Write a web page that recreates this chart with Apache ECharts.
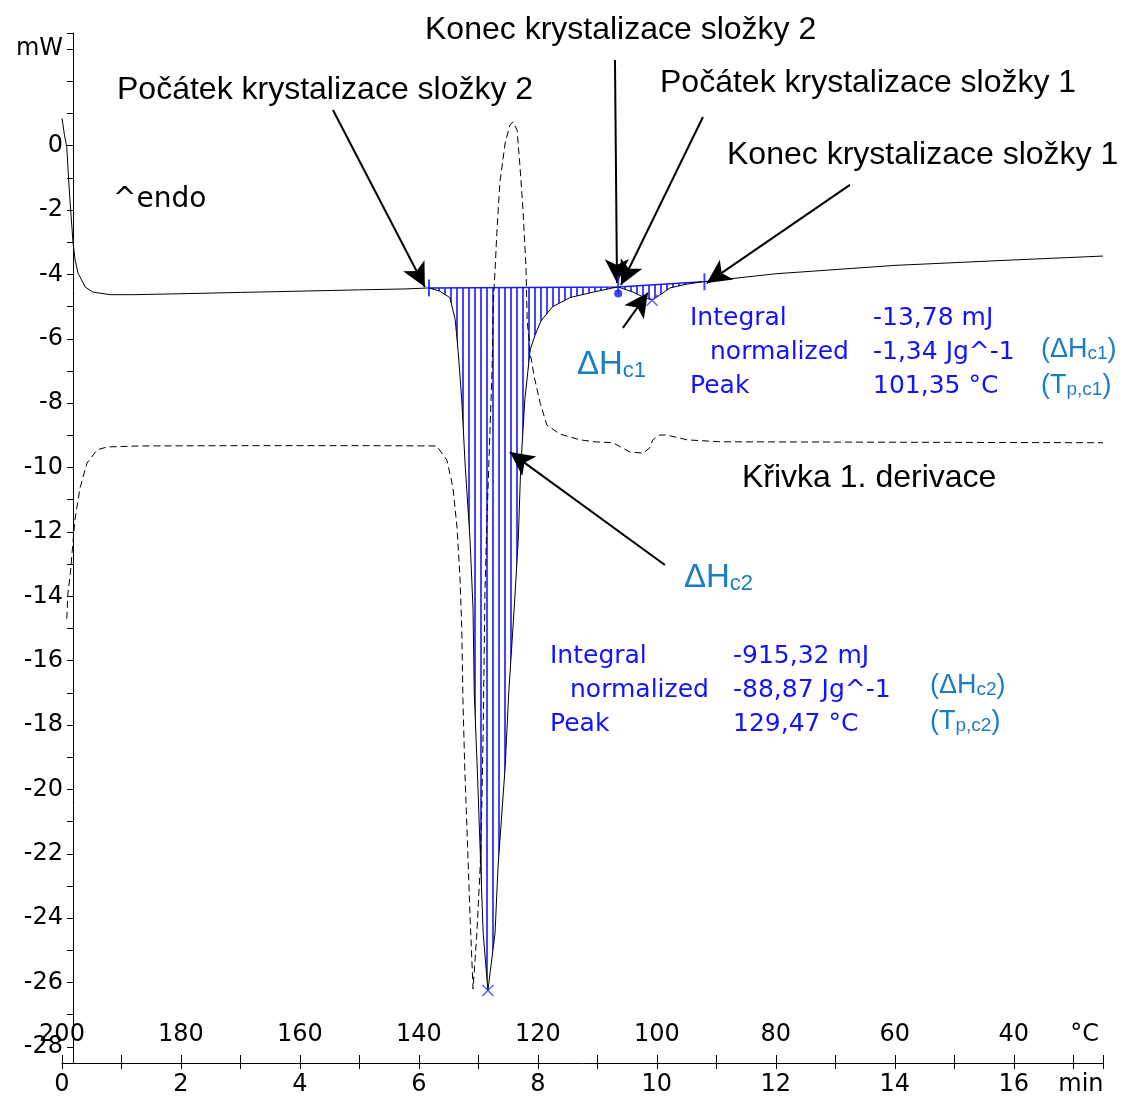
<!DOCTYPE html>
<html>
<head>
<meta charset="utf-8">
<script src="https://cdn.jsdelivr.net/npm/echarts@6.0.0/dist/echarts.min.js"></script>
<style>
html, body { margin: 0; padding: 0; background: #fff; }
#chart { width: 1124px; height: 1104px; }
</style>
</head>
<body>
<div id="chart"></div>
<script>
// DSC krivka: cas (min) a tepelny tok (mW)
var dscTime = [0.00, 0.04, 0.08, 0.13, 0.185, 0.22, 0.27, 0.39, 0.52, 0.81, 1.2, 2, 3, 4, 5, 5.8, 6.17,
  6.35, 6.52, 6.61, 6.66, 6.72, 6.78, 6.86, 6.91, 6.93, 6.98, 7.04, 7.08, 7.16,
  7.28, 7.33, 7.45, 7.51, 7.60, 7.67, 7.71, 7.78, 7.87, 7.95, 8.05, 8.25, 8.54, 8.93, 9.26, 9.35,
  9.6, 9.77, 9.92, 10.05, 10.22, 10.51, 10.77, 12, 14, 16, 17.5];
var dscFlow = [0.85, 0.35, -0.05, -1.6, -3.0, -3.55, -3.96, -4.39, -4.55, -4.63, -4.63, -4.6, -4.56, -4.52, -4.48, -4.45, -4.42,
  -4.52, -4.72, -5.4, -6.4, -7.9, -10.0, -12.25, -14.4, -17.0, -19.3, -22.4, -24.46, -26.25,
  -24.46, -22.4, -19.3, -17.0, -14.43, -12.25, -10.07, -7.9, -6.35, -5.9, -5.45, -5.0, -4.72, -4.55, -4.42, -4.39,
  -4.55, -4.7, -4.8, -4.64, -4.42, -4.3, -4.23, -3.98, -3.72, -3.55, -3.43];

// krivka 1. derivace (v meritku osy mW)
var derTime = [0.08, 0.10, 0.14, 0.185, 0.22, 0.3, 0.42, 0.59, 0.76, 1.3, 3, 5, 6.3,
  6.47, 6.57, 6.64, 6.69, 6.72, 6.74, 6.77, 6.81, 6.86, 6.91,
  6.97, 7.03, 7.06, 7.08, 7.11, 7.14, 7.17, 7.23, 7.25, 7.28, 7.31, 7.36, 7.45, 7.53, 7.58, 7.65,
  7.70, 7.75, 7.80, 7.82, 7.87, 7.95, 8.04, 8.15, 8.37, 8.71, 8.96, 9.26, 9.55, 9.77, 9.88, 9.93,
  10.05, 10.17, 10.51, 11.06, 17.5];
var derVal = [-14.7, -13.9, -13.3, -12.3, -11.6, -10.66, -9.86, -9.45, -9.36, -9.33, -9.32, -9.32, -9.33,
  -9.77, -10.6, -11.85, -13.4, -14.95, -17.2, -19.3, -21.35, -23.96, -26.2,
  -24.6, -22.4, -20.3, -18.2, -13.9, -11.85, -10.2, -6.97, -4.9, -3.86, -2.72, -1.16, 0.08, 0.64, 0.74, 0.49,
  -0.66, -2.0, -3.77, -5.42, -6.44, -7.28, -8.0, -8.68, -8.96, -9.14, -9.2, -9.23, -9.52, -9.55, -9.39, -9.14,
  -8.99, -8.99, -9.14, -9.2, -9.23];

// popisky teplotni osy (kazde 2 min)
var tempLabels = ['200', '180', '160', '140', '120', '100', '80', '60', '40'];

// meze integrace a zakladni linie
var peak2Limits = [6.17, 9.35];
var peak2Base = [-4.42, -4.39];
var peak1Limits = [9.35, 10.77];
var peak1Base = [-4.39, -4.23];
var peakMarks = [[7.16, -26.25], [9.92, -4.8]];

// sipky [od, do]
var arrows = [
  [[4.555, 1.11], [6.10, -4.39]],
  [[9.296, 2.66], [9.33, -4.27]],
  [[10.775, 0.89], [9.397, -4.33]],
  [[13.246, -1.22], [10.84, -4.27]],
  [[9.43, -5.66], [9.85, -4.57]],
  [[10.136, -13.03], [7.53, -9.52]]
];

var pc = document.createElement('canvas');
pc.width = 6; pc.height = 4;
var pctx = pc.getContext('2d');
pctx.fillStyle = '#4646ff';
pctx.fillRect(0, 0, 2, 4);
var hatch = { image: pc, repeat: 'repeat' };

function zip(a, b) {
  return a.map(function (v, i) { return [v, b[i]]; });
}

function hatchSeries(lim, base) {
  return {
    type: 'custom',
    silent: true,
    data: [[lim[0], base[0]]],
    renderItem: function (params, api) {
      var pts = [api.coord([lim[0], base[0]])];
      for (var i = 0; i < dscTime.length; i++) {
        if (dscTime[i] >= lim[0] && dscTime[i] <= lim[1]) {
          pts.push(api.coord([dscTime[i], dscFlow[i]]));
        }
      }
      pts.push(api.coord([lim[1], base[1]]));
      return { type: 'polygon', shape: { points: pts }, style: { fill: hatch, stroke: null } };
    },
    z: 1
  };
}

var blackFont = 'Liberation Sans';
var tahoma = 'DejaVu Sans';
var steel = '#1a7cc4';
var blue = '#1212ff';

function txt(x, y, s, size, color, family) {
  return {
    type: 'text', x: x, y: y,
    style: { text: s, fontSize: size, fontFamily: family, fill: color, verticalAlign: 'middle', align: 'left' }
  };
}

function richTxt(x, y, s, size, subSize) {
  return {
    type: 'text', x: x, y: y,
    style: {
      text: s, verticalAlign: 'middle', align: 'left',
      rich: {
        a: { fontSize: size, fontFamily: blackFont, fill: steel, verticalAlign: 'bottom', lineHeight: size },
        b: { fontSize: subSize, fontFamily: blackFont, fill: steel, verticalAlign: 'bottom', lineHeight: subSize }
      }
    }
  };
}

var chart = echarts.init(document.getElementById('chart'));

var option = {
  animation: false,
  backgroundColor: '#fff',
  grid: { left: 62, right: 21, top: 33, bottom: 41, containLabel: false, outerBoundsMode: 'none' },
  xAxis: [{
    type: 'value', position: 'bottom', min: 0, max: 17.5, interval: 1,
    axisLine: { onZero: false, lineStyle: { color: '#000', width: 1 } },
    axisTick: { show: true, inside: false, length: 6, lineStyle: { color: '#000' } },
    splitLine: { show: false },
    axisLabel: {
      color: '#000', fontSize: 24, fontFamily: tahoma, margin: 10,
      formatter: function (v) {
        if (v === 17) return '  min';
        if (v % 2 === 0) return String(v);
        return '';
      }
    }
  }, {
    type: 'value', position: 'bottom', min: 0, max: 17.5, interval: 1,
    axisLine: { show: false, onZero: false },
    axisTick: { show: true, inside: true, length: 8, lineStyle: { color: '#000' } },
    splitLine: { show: false },
    axisLabel: {
      inside: true, color: '#000', fontSize: 24, fontFamily: tahoma, margin: 16,
      formatter: function (v) {
        if (v === 17) return '   °C';
        if (v % 2 === 0 && v / 2 < tempLabels.length) return tempLabels[v / 2];
        return '';
      }
    }
  }],
  yAxis: {
    type: 'value', min: -28.5, max: 3.5, splitNumber: 32, minInterval: 1, maxInterval: 1,
    offset: -11,
    axisLine: { show: true, onZero: false, lineStyle: { color: '#000', width: 1 } },
    axisTick: { show: true, length: 6, lineStyle: { color: '#000' } },
    splitLine: { show: false },
    axisLabel: {
      color: '#000', fontSize: 24, fontFamily: tahoma, margin: 10,
      formatter: function (v) {
        if (v === 3) return 'mW';
        if (v <= 0 && Math.abs(v % 2) === 0 && Math.round(v) === v) return String(v);
        return '';
      }
    }
  },
  series: [
    hatchSeries(peak2Limits, peak2Base),
    hatchSeries(peak1Limits, peak1Base),
    {
      type: 'line', name: 'baseline',
      data: [[peak2Limits[0], peak2Base[0]], [peak2Limits[1], peak2Base[1]], [peak1Limits[1], peak1Base[1]]],
      symbol: 'none', silent: true,
      lineStyle: { color: '#1a1aff', width: 1.5 }, z: 3
    },
    {
      type: 'line', name: 'derivace',
      data: zip(derTime, derVal),
      symbol: 'none', silent: true,
      lineStyle: { color: '#000', width: 1, type: [7, 4] }, z: 4
    },
    {
      type: 'line', name: 'DSC',
      data: zip(dscTime, dscFlow),
      symbol: 'none', silent: true,
      lineStyle: { color: '#000', width: 1 }, z: 5,
      markLine: {
        silent: true, animation: false,
        symbol: ['none', 'arrow'], symbolSize: 22,
        label: { show: false },
        lineStyle: { color: '#000', width: 2, type: 'solid' },
        emphasis: { disabled: true },
        data: arrows.map(function (a) {
          return [
            { coord: a[0], symbol: 'none' },
            { coord: a[1], symbol: 'arrow', symbolSize: [18, 24] }
          ];
        })
      }
    },
    {
      type: 'scatter', name: 'peaks', silent: true,
      data: peakMarks,
      symbol: 'path://M0,0L10,10M10,0L0,10', symbolSize: 11,
      itemStyle: { color: 'none', borderColor: '#3a3aff', borderWidth: 1.5 }, z: 6
    },
    {
      type: 'scatter', name: 'meze', silent: true,
      data: [[peak2Limits[0], peak2Base[0]], [peak2Limits[1], peak2Base[1] + 0.1], [peak1Limits[1] + 0.03, peak1Base[1]]],
      symbol: 'rect', symbolSize: [2, 17],
      itemStyle: { color: '#1010ff' }, z: 6
    },
    {
      type: 'scatter', name: 'dot', silent: true,
      data: [[peak2Limits[1], peak2Base[1] - 0.2]],
      symbol: 'circle', symbolSize: 8,
      itemStyle: { color: '#1010ff' }, z: 6
    }
  ],
  graphic: [
    txt(425, 30, 'Konec krystalizace složky 2', 32, '#000', blackFont),
    txt(117, 90, 'Počátek krystalizace složky 2', 32, '#000', blackFont),
    txt(660, 83, 'Počátek krystalizace složky 1', 32, '#000', blackFont),
    txt(727, 155, 'Konec krystalizace složky 1', 32, '#000', blackFont),
    txt(742, 478, 'Křivka 1. derivace', 32, '#000', blackFont),
    txt(113, 200, '^endo', 28, '#000', tahoma),
    richTxt(577, 365, '{a|ΔH}{b|c1}', 33, 22),
    richTxt(684, 578, '{a|ΔH}{b|c2}', 33, 22),
    txt(690, 318, 'Integral', 25, blue, tahoma),
    txt(873, 318, '-13,78 mJ', 25, blue, tahoma),
    txt(710, 352, 'normalized', 25, blue, tahoma),
    txt(873, 352, '-1,34 Jg^-1', 25, blue, tahoma),
    txt(690, 386, 'Peak', 25, blue, tahoma),
    txt(873, 386, '101,35 °C', 25, blue, tahoma),
    richTxt(1041, 350, '{a|(ΔH}{b|c1}{a|)}', 27, 19),
    richTxt(1041, 386, '{a|(T}{b|p,c1}{a|)}', 27, 19),
    txt(550, 656, 'Integral', 25, blue, tahoma),
    txt(733, 656, '-915,32 mJ', 25, blue, tahoma),
    txt(570, 690, 'normalized', 25, blue, tahoma),
    txt(733, 690, '-88,87 Jg^-1', 25, blue, tahoma),
    txt(550, 724, 'Peak', 25, blue, tahoma),
    txt(733, 724, '129,47 °C', 25, blue, tahoma),
    richTxt(930, 686, '{a|(ΔH}{b|c2}{a|)}', 27, 19),
    richTxt(930, 722, '{a|(T}{b|p,c2}{a|)}', 27, 19)
  ]
};

chart.setOption(option);
</script>
</body>
</html>
